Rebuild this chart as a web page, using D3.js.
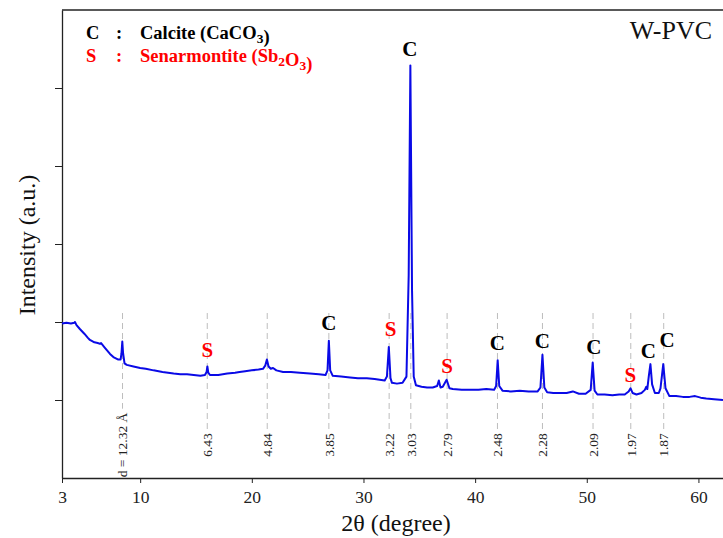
<!DOCTYPE html>
<html>
<head>
<meta charset="utf-8">
<script src="https://cdn.jsdelivr.net/npm/d3@7/dist/d3.min.js"></script>
<style>
  html, body { margin: 0; padding: 0; background: #fff; }
  svg { display: block; }
  text { font-family: "Liberation Serif", "DejaVu Serif", serif; }
</style>
</head>
<body>
<svg id="chart" width="723" height="538"></svg>
<script>
// ---- data ----
const twoTheta = [3.0,3.4,3.8,4.1,4.16,4.3,4.6,5.0,5.3,5.5,5.9,6.2,6.4,6.5,6.9,7.3,7.6,8.0,8.25,8.33,8.40,8.47,8.6,8.8,9.4,10.0,10.5,11.2,12.0,12.5,13.0,13.6,14.2,14.8,15.4,15.8,15.95,16.02,16.1,16.25,17.0,17.8,18.5,18.9,19.4,20.0,20.6,21.0,21.2,21.35,21.5,21.7,21.9,22.2,22.8,23.5,24.3,25.2,26.0,26.6,26.78,26.90,27.02,27.25,28.0,28.8,29.5,30.3,31.0,31.9,32.1,32.27,32.42,32.55,33.0,33.5,33.85,34.05,34.2,34.35,34.5,34.7,35.2,35.7,36.2,36.6,36.75,36.9,37.1,37.45,37.7,38.0,38.8,39.5,40.3,41.0,41.7,41.88,42.02,42.16,42.45,43.2,44.0,44.8,45.6,45.85,46.03,46.2,46.45,47.0,47.6,48.2,48.75,49.3,49.9,50.35,50.53,50.7,50.95,51.6,52.3,52.9,53.4,53.75,53.92,54.1,54.45,54.9,55.2,55.33,55.42,55.55,55.70,55.85,56.1,56.45,56.6,56.85,57.05,57.4,58.0,58.6,59.2,59.7,60.2,60.7,61.4,62.2];
const intensity = [1.98,1.99,1.98,1.99,2.00,1.96,1.91,1.85,1.80,1.77,1.74,1.73,1.72,1.73,1.66,1.59,1.55,1.52,1.52,1.60,1.75,1.60,1.47,1.45,1.43,1.41,1.40,1.38,1.36,1.35,1.34,1.33,1.33,1.32,1.31,1.32,1.36,1.43,1.35,1.32,1.32,1.34,1.35,1.36,1.37,1.38,1.39,1.40,1.44,1.52,1.43,1.40,1.41,1.38,1.36,1.36,1.35,1.34,1.33,1.32,1.38,1.76,1.38,1.31,1.30,1.29,1.28,1.28,1.27,1.25,1.30,1.68,1.28,1.22,1.21,1.22,1.30,2.60,5.29,2.40,1.30,1.19,1.17,1.16,1.16,1.18,1.25,1.16,1.17,1.26,1.15,1.14,1.13,1.13,1.13,1.14,1.13,1.18,1.51,1.18,1.12,1.11,1.12,1.11,1.11,1.16,1.58,1.16,1.10,1.09,1.09,1.09,1.11,1.08,1.08,1.13,1.48,1.12,1.07,1.07,1.06,1.07,1.07,1.11,1.15,1.09,1.07,1.09,1.13,1.17,1.14,1.30,1.46,1.20,1.09,1.09,1.15,1.46,1.15,1.05,1.05,1.04,1.04,1.05,1.03,1.02,1.01,1.00];

// reflection markers (d-spacing lines)
const dPositions = [8.42,16.01,21.38,26.90,32.30,34.24,37.49,42.00,46.03,50.56,53.94,56.89];
const dLabels = ["d = 12.32 Å","6.43","4.84","3.85","3.22","3.03","2.79","2.48","2.28","2.09","1.97","1.87"];

// phase letters above peaks
const phaseLetters = ["S","C","S","C","S","C","C","C","S","C","C"];
const phasePos = [16.01,26.90,32.43,34.15,37.49,41.98,46.03,50.63,53.91,55.52,57.19];
const phaseLevel = [1.64,1.99,1.92,5.51,1.44,1.73,1.76,1.69,1.32,1.63,1.78];

const xTicks = [3,10,20,30,40,50,60];
const yTicks = [1,2,3,4,5];

const phaseColor = { C: "#000000", S: "#ff0000" };

// ---- layout ----
const svg = d3.select("#chart");
const mLeft = 62, mRight = 723, mTop = 10, mBottom = 478;
const x = d3.scaleLinear().domain([3, 62.2]).range([mLeft, mRight]);
const y = d3.scaleLinear().domain([0, 6]).range([mBottom, mTop]);

// frame: top line
svg.append("line").attr("x1", mLeft).attr("x2", mRight).attr("y1", mTop).attr("y2", mTop)
  .attr("stroke", "#222").attr("stroke-width", 1.3);

// dashed reference lines + d labels (drawn first, under the curve)
const dG = svg.append("g");
dPositions.forEach((p, i) => {
  const t = dG.append("text")
    .attr("transform", `translate(${x(p)},445) rotate(-90)`)
    .attr("text-anchor", "middle").attr("dy", "0.35em")
    .attr("font-size", 13.5).attr("fill", "#222")
    .text(dLabels[i]);
  const len = t.node().getComputedTextLength();
  dG.append("line")
    .attr("x1", x(p)).attr("x2", x(p))
    .attr("y1", 313).attr("y2", 445 - len / 2 - 4)
    .attr("stroke", "#bdbdbd").attr("stroke-width", 1)
    .attr("stroke-dasharray", "6,4");
});

// axes
const xAxis = d3.axisBottom(x).tickValues(xTicks).tickSize(5).tickSizeOuter(0).tickFormat(d3.format("d"));
const gx = svg.append("g").attr("transform", `translate(0,${mBottom})`).call(xAxis);
gx.select(".domain").attr("stroke", "#222").attr("stroke-width", 1.3);
gx.selectAll(".tick line").attr("stroke", "#222");
gx.selectAll(".tick text").attr("font-size", 17.5).attr("fill", "#222")
  .attr("font-family", "Liberation Serif, serif").attr("dy", "0.95em");

const yAxis = d3.axisLeft(y).tickValues(yTicks).tickSize(7).tickSizeOuter(0).tickFormat("");
const gy = svg.append("g").attr("transform", `translate(${mLeft},0)`).call(yAxis);
gy.select(".domain").attr("stroke", "#222").attr("stroke-width", 1.3);
gy.selectAll(".tick line").attr("stroke", "#222");

// axis titles
svg.append("text").attr("x", 396).attr("y", 531).attr("text-anchor", "middle")
  .attr("font-size", 24).attr("fill", "#111").text("2θ (degree)");
svg.append("text").attr("transform", "translate(35,245) rotate(-90)").attr("text-anchor", "middle")
  .attr("font-size", 24).attr("fill", "#111").text("Intensity (a.u.)");

// curve
const pts = twoTheta.map((t, i) => [t, intensity[i]]);
const line = d3.line().x(d => x(d[0])).y(d => y(d[1]));
svg.append("path").datum(pts).attr("d", line)
  .attr("fill", "none").attr("stroke", "#0a0ae6").attr("stroke-width", 2)
  .attr("stroke-linejoin", "round");

// phase letters
phaseLetters.forEach((L, i) => {
  svg.append("text").attr("x", x(phasePos[i])).attr("y", y(phaseLevel[i]))
    .attr("dy", "0.35em").attr("text-anchor", "middle")
    .attr("font-size", 21).attr("font-weight", "bold")
    .attr("fill", phaseColor[L]).text(L);
});

// legend
function legendRow(yb, letter, color, parts) {
  svg.append("text").attr("x", 86).attr("y", yb).attr("font-size", 18.5).attr("font-weight", "bold")
    .attr("fill", color).text(letter);
  svg.append("text").attr("x", 116).attr("y", yb).attr("font-size", 18.5).attr("font-weight", "bold")
    .attr("fill", color).text(":");
  const t = svg.append("text").attr("x", 140).attr("y", yb).attr("font-size", 18.5).attr("font-weight", "bold")
    .attr("fill", color);
  parts.forEach(p => {
    if (p.sub) {
      t.append("tspan").attr("font-size", 13.5).attr("dy", 4).text(p.s);
      t.append("tspan").attr("dy", -4).text("");
    } else {
      t.append("tspan").text(p.s);
    }
  });
}
legendRow(39, "C", "#000", [{s: "Calcite (CaCO"}, {s: "3", sub: true}, {s: ")"}]);
legendRow(62, "S", "#ff0000", [{s: "Senarmontite (Sb"}, {s: "2", sub: true}, {s: "O"}, {s: "3", sub: true}, {s: ")"}]);

// sample name
svg.append("text").attr("x", 712).attr("y", 39).attr("text-anchor", "end")
  .attr("font-size", 26).attr("fill", "#111").text("W-PVC");
</script>
</body>
</html>
